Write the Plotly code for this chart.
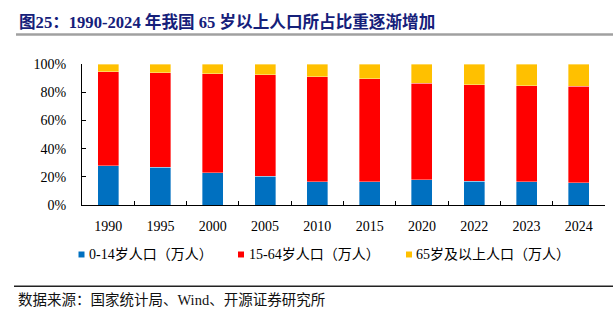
import plotly.graph_objects as go

years = ["1990", "1995", "2000", "2005", "2010", "2015", "2020", "2022", "2023", "2024"]
pop_0_14 = [31659, 32218, 29012, 26504, 22259, 22715, 25277, 23908, 23063, 22263]
pop_15_64 = [76306, 81393, 88910, 94197, 99938, 100361, 96871, 96289, 96228, 96542]
pop_65 = [6368, 7510, 8821, 10055, 11894, 14386, 19064, 20978, 21676, 22023]
series_names = ["0-14岁人口（万人）", "15-64岁人口（万人）", "65岁及以上人口（万人）"]
colors = ["#0070C0", "#FF0000", "#FFC000"]

W, H = 613, 322
L, R, T, B = 82, 605, 63.7, 205.3
PW, PH = R - L, B - T

def px(x):
    return (x - L) / PW

def py(y):
    return (B - y) / PH

serif = "Liberation Serif, Noto Sans CJK SC, serif"

fig = go.Figure()
for name, vals, c in zip(series_names, [pop_0_14, pop_15_64, pop_65], colors):
    fig.add_trace(go.Bar(x=years, y=vals, name=name, marker=dict(color=c, line=dict(width=0.6, color="rgba(255,255,255,0.6)")), showlegend=False))

fig.update_layout(
    width=W, height=H,
    margin=dict(l=L, r=W - R, t=T, b=H - B, pad=0),
    barmode="stack", barnorm="percent", bargap=0.6,
    plot_bgcolor="white", paper_bgcolor="white",
    font=dict(family=serif, size=14, color="#000"),
)
fig.update_xaxes(
    type="category", showline=True, linecolor="#000", linewidth=1,
    ticks="inside", tickson="boundaries", ticklen=4, tickcolor="#000",
    tickfont=dict(family=serif, size=14), ticklabelstandoff=8,
    showgrid=False,
)
fig.update_yaxes(
    range=[0, 100], dtick=20, ticksuffix="%", showline=True, linecolor="#000", linewidth=1,
    ticks="inside", ticklen=4, tickcolor="#000", showgrid=False, zeroline=False,
    tickfont=dict(family=serif, size=14), ticklabelstandoff=12,
)

# title
fig.add_annotation(
    text="<b>图25：1990-2024 年我国 65 岁以上人口所占比重逐渐增加</b>",
    xref="paper", yref="paper", x=px(17), y=py(22), xanchor="left", yanchor="middle",
    showarrow=False, font=dict(family="Liberation Serif, Noto Sans CJK SC", size=16.6, color="#15207A"),
)
fig.add_shape(type="line", xref="paper", yref="paper", x0=px(16), x1=px(613), y0=py(34), y1=py(34),
              line=dict(color="#A0A0A0", width=2.5))

# legend
leg_sq = [78.5, 238, 406]
leg_tx = [87, 247, 414]
for name, c, sx, tx in zip(series_names, colors, leg_sq, leg_tx):
    fig.add_shape(type="rect", xref="paper", yref="paper", x0=px(sx), x1=px(sx + 6), y0=py(252), y1=py(258),
                  line=dict(width=0), fillcolor=c)
    fig.add_annotation(text=name, xref="paper", yref="paper", x=px(tx), y=py(255), xanchor="left", yanchor="middle",
                       showarrow=False, font=dict(family=serif, size=14, color="#000"))

# source
fig.add_shape(type="line", xref="paper", yref="paper", x0=px(14), x1=px(613), y0=py(287), y1=py(287),
              line=dict(color="#222", width=1.5))
fig.add_annotation(text="数据来源：国家统计局、Wind、开源证券研究所", xref="paper", yref="paper", x=px(16), y=py(301),
                   xanchor="left", yanchor="middle", showarrow=False,
                   font=dict(family=serif, size=14.5, color="#111"))

fig.write_html("out.html")
